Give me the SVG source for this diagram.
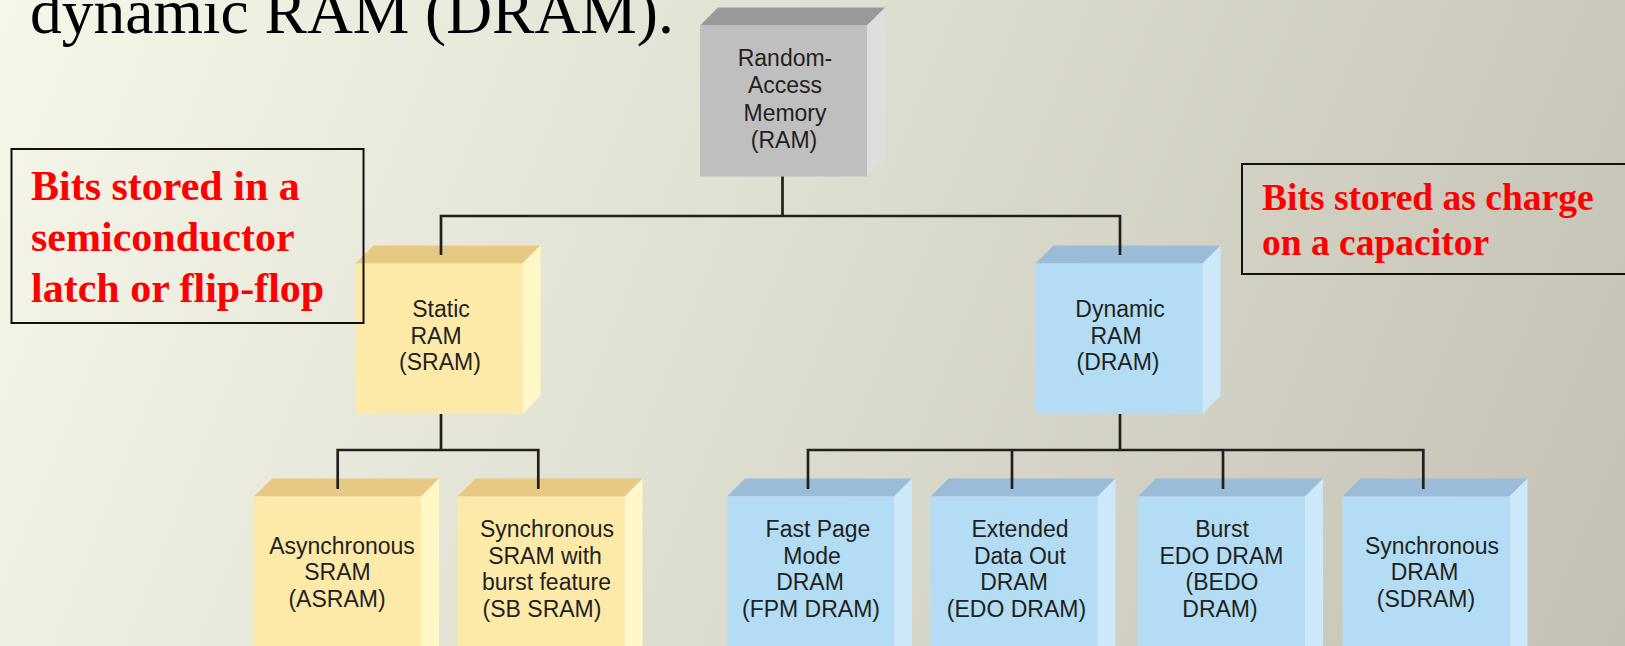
<svg xmlns="http://www.w3.org/2000/svg" width="1625" height="646" viewBox="0 0 1625 646">
  <defs>
    <linearGradient id="bg" x1="0" y1="0" x2="1625" y2="646" gradientUnits="userSpaceOnUse">
      <stop offset="0" stop-color="#f6f6ea"/>
      <stop offset="0.5" stop-color="#dcdccf"/>
      <stop offset="1" stop-color="#c3c1b3"/>
    </linearGradient>
    <style>
      .lbl { font-family: "Liberation Sans", Arial, sans-serif; font-size: 23px; fill: #231f20; text-anchor: middle; }
      .note { font-family: "Liberation Serif", "Times New Roman", serif; font-weight: bold; fill: #ff0000; }
      .notebox { fill: none; stroke: #111; stroke-width: 2; }
      .wire { fill: none; stroke: #231f20; stroke-width: 2.7; stroke-linejoin: miter; stroke-linecap: butt; }
      .g-front { fill: #bfbfbf; } .g-top { fill: #999999; } .g-side { fill: #dedede; }
      .y-front { fill: #fdeaa9; } .y-top { fill: #e7c984; } .y-side { fill: #fff8c6; }
      .b-front { fill: #b2ddf5; } .b-top { fill: #9abcd8; } .b-side { fill: #cde8f9; }
    </style>
  </defs>

  <!-- backdrop -->
  <rect x="0" y="0" width="1625" height="646" fill="url(#bg)"/>

  <!-- heading fragment -->
  <text x="30" y="33" font-family="'Liberation Serif', 'Times New Roman', serif" font-size="63.5" fill="#000">dynamic RAM (DRAM).</text>

  <!-- top node: Random-Access Memory -->
  <g id="node-ram">
    <polygon class="g-top" points="700,25.5 718,7.5 885,7.5 867,25.5"/>
    <polygon class="g-side" points="867,25.5 885,7.5 885,158.5 867,176.5"/>
    <rect class="g-front" x="700" y="25.5" width="167" height="151"/>
    <text class="lbl"><tspan x="785" y="66">Random-</tspan><tspan x="785" y="93">Access</tspan><tspan x="785" y="120.5">Memory</tspan><tspan x="784" y="147.5">(RAM)</tspan></text>
  </g>

  <!-- second level -->
  <g id="node-sram">
    <polygon class="y-top" points="355.5,263.5 373.5,245.5 540.5,245.5 522.5,263.5"/>
    <polygon class="y-side" points="522.5,263.5 540.5,245.5 540.5,396 522.5,414"/>
    <rect class="y-front" x="355.5" y="263.5" width="167" height="150.5"/>
    <text class="lbl"><tspan x="441" y="317">Static</tspan><tspan x="436" y="343.5">RAM</tspan><tspan x="440" y="370">(SRAM)</tspan></text>
  </g>

  <g id="node-dram">
    <polygon class="b-top" points="1035.5,263.5 1053.5,245.5 1220.5,245.5 1202.5,263.5"/>
    <polygon class="b-side" points="1202.5,263.5 1220.5,245.5 1220.5,396 1202.5,414"/>
    <rect class="b-front" x="1035.5" y="263.5" width="167" height="150.5"/>
    <text class="lbl"><tspan x="1120" y="317">Dynamic</tspan><tspan x="1116" y="343.5">RAM</tspan><tspan x="1118" y="370">(DRAM)</tspan></text>
  </g>

  <!-- third level: SRAM variants -->
  <g id="node-asram">
    <polygon class="y-top" points="254,496.5 272,478.5 439,478.5 421,496.5"/>
    <polygon class="y-side" points="421,496.5 439,478.5 439,660 421,678"/>
    <rect class="y-front" x="254" y="496.5" width="167" height="180"/>
    <text class="lbl"><tspan x="342" y="553.5">Asynchronous</tspan><tspan x="337.5" y="580">SRAM</tspan><tspan x="337" y="606.5">(ASRAM)</tspan></text>
  </g>

  <g id="node-sbsram">
    <polygon class="y-top" points="457.5,496.5 475.5,478.5 642.5,478.5 624.5,496.5"/>
    <polygon class="y-side" points="624.5,496.5 642.5,478.5 642.5,660 624.5,678"/>
    <rect class="y-front" x="457.5" y="496.5" width="167" height="180"/>
    <text class="lbl"><tspan x="547" y="537">Synchronous</tspan><tspan x="545" y="563.5">SRAM with</tspan><tspan x="546.5" y="590">burst feature</tspan><tspan x="542" y="616.5">(SB SRAM)</tspan></text>
  </g>

  <!-- third level: DRAM variants -->
  <g id="node-fpm">
    <polygon class="b-top" points="727,496.5 745,478.5 912,478.5 894,496.5"/>
    <polygon class="b-side" points="894,496.5 912,478.5 912,660 894,678"/>
    <rect class="b-front" x="727" y="496.5" width="167" height="180"/>
    <text class="lbl"><tspan x="818" y="537">Fast Page</tspan><tspan x="812" y="563.5">Mode</tspan><tspan x="810" y="590">DRAM</tspan><tspan x="811" y="616.5">(FPM DRAM)</tspan></text>
  </g>

  <g id="node-edo">
    <polygon class="b-top" points="930.5,496.5 948.5,478.5 1115.5,478.5 1097.5,496.5"/>
    <polygon class="b-side" points="1097.5,496.5 1115.5,478.5 1115.5,660 1097.5,678"/>
    <rect class="b-front" x="930.5" y="496.5" width="167" height="180"/>
    <text class="lbl"><tspan x="1020" y="537">Extended</tspan><tspan x="1020" y="563.5">Data Out</tspan><tspan x="1014" y="590">DRAM</tspan><tspan x="1016.5" y="616.5">(EDO DRAM)</tspan></text>
  </g>

  <g id="node-bedo">
    <polygon class="b-top" points="1138,496.5 1156,478.5 1323,478.5 1305,496.5"/>
    <polygon class="b-side" points="1305,496.5 1323,478.5 1323,660 1305,678"/>
    <rect class="b-front" x="1138" y="496.5" width="167" height="180"/>
    <text class="lbl"><tspan x="1222" y="537">Burst</tspan><tspan x="1221.5" y="563.5">EDO DRAM</tspan><tspan x="1222" y="590">(BEDO</tspan><tspan x="1220" y="616.5">DRAM)</tspan></text>
  </g>

  <g id="node-sdram">
    <polygon class="b-top" points="1342.5,496.5 1360.5,478.5 1527.5,478.5 1509.5,496.5"/>
    <polygon class="b-side" points="1509.5,496.5 1527.5,478.5 1527.5,660 1509.5,678"/>
    <rect class="b-front" x="1342.5" y="496.5" width="167" height="180"/>
    <text class="lbl"><tspan x="1432" y="553.5">Synchronous</tspan><tspan x="1424.5" y="580">DRAM</tspan><tspan x="1426" y="606.5">(SDRAM)</tspan></text>
  </g>

  <!-- tree connectors -->
  <g id="connectors">
    <path class="wire" d="M782.5,176.5 V216 M441,255 V216 H1120 V255"/>
    <path class="wire" d="M441,414 V450 M337.7,489 V450 H538.3 V489"/>
    <path class="wire" d="M1120,414 V450 M808,489 V450 H1423.3 V489 M1012,450 V489 M1223,450 V489"/>
  </g>

  <!-- annotation boxes -->
  <g id="note-static">
    <rect class="notebox" x="11.5" y="149" width="352" height="174"/>
    <text class="note" font-size="42"><tspan x="31" y="200">Bits stored in a</tspan><tspan x="31" y="250.5">semiconductor</tspan><tspan x="31" y="302">latch or flip-flop</tspan></text>
  </g>

  <g id="note-dynamic">
    <rect class="notebox" x="1242" y="164" width="400" height="110"/>
    <text class="note" font-size="37.5"><tspan x="1262" y="210">Bits stored as charge</tspan><tspan x="1262" y="255">on a capacitor</tspan></text>
  </g>
</svg>
